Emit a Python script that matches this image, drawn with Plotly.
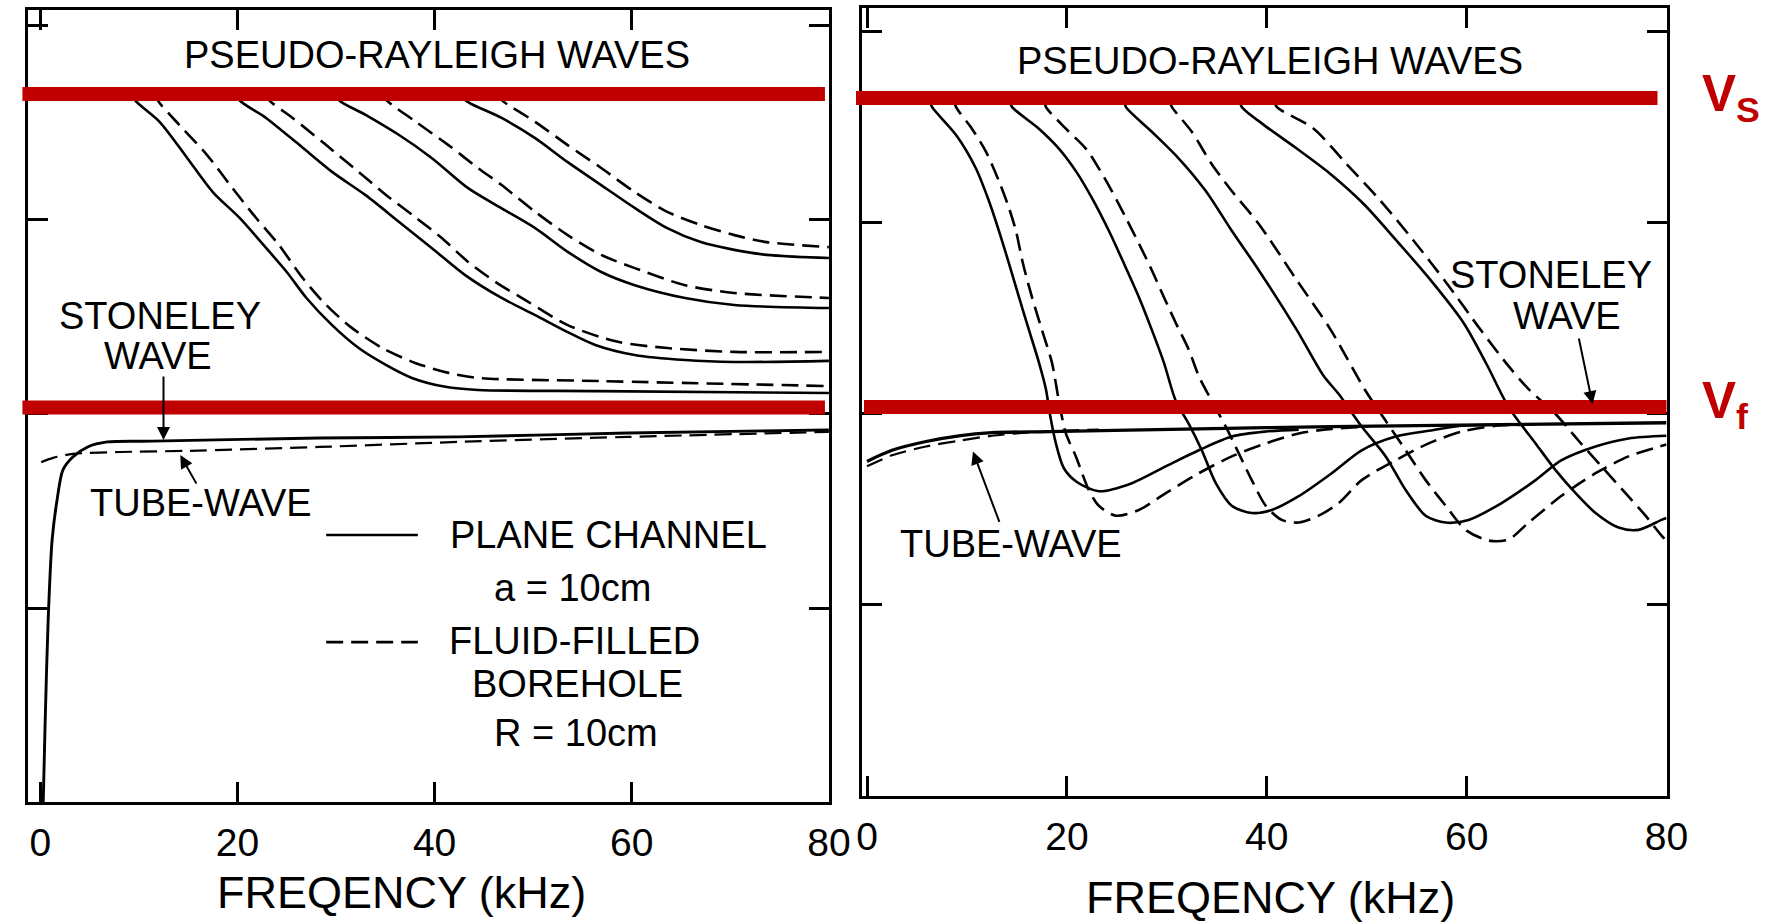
import plotly.graph_objects as go

# ---------------- data (frequency kHz, phase velocity km/s) ----------------
VS = 2.325   # shear velocity line
VF = 1.517   # fluid velocity line

# Left panel: plane channel (solid) vs fluid-filled borehole (dashed)
LP1_S_F = [9.3, 9.6, 12.1, 14.9, 17.5, 20.2, 22.9, 25.0, 27.0, 29.6, 32.3, 35.1, 37.7, 41.1, 44.4, 56.6, 80.0]
LP1_S_V = [2.330, 2.309, 2.253, 2.160, 2.072, 2.006, 1.928, 1.866, 1.799, 1.729, 1.670, 1.626, 1.593, 1.570, 1.562, 1.559, 1.554]
LP1_D_F = [11.6, 11.9, 14.1, 16.9, 19.5, 21.9, 24.2, 26.6, 29.0, 31.6, 34.7, 38.1, 41.4, 44.4, 56.6, 80.0]
LP1_D_V = [2.330, 2.309, 2.245, 2.168, 2.082, 2.005, 1.936, 1.851, 1.781, 1.722, 1.670, 1.631, 1.606, 1.593, 1.585, 1.572]

LP2_S_F = [19.9, 20.2, 22.9, 26.3, 29.6, 33.0, 36.4, 39.7, 43.1, 46.8, 50.2, 53.5, 56.3, 60.3, 65.4, 70.4, 80.0]
LP2_S_V = [2.330, 2.309, 2.263, 2.193, 2.124, 2.064, 1.995, 1.928, 1.858, 1.799, 1.755, 1.711, 1.678, 1.652, 1.639, 1.634, 1.637]
LP2_D_F = [22.7, 23.2, 25.6, 29.0, 32.3, 35.1, 38.1, 40.7, 43.4, 46.2, 49.5, 53.5, 58.6, 63.6, 70.4, 80.0]
LP2_D_V = [2.330, 2.309, 2.263, 2.193, 2.124, 2.064, 2.006, 1.954, 1.892, 1.840, 1.789, 1.729, 1.686, 1.670, 1.660, 1.660]

LP3_S_F = [30.0, 30.3, 33.0, 36.4, 39.7, 43.4, 46.8, 50.2, 53.5, 56.9, 60.3, 65.4, 70.4, 80.0]
LP3_S_V = [2.330, 2.309, 2.271, 2.219, 2.160, 2.082, 2.030, 1.979, 1.918, 1.866, 1.832, 1.799, 1.781, 1.773]
LP3_D_F = [34.5, 35.1, 38.1, 41.4, 44.4, 46.8, 50.2, 53.5, 56.9, 60.3, 65.4, 70.4, 80.0]
LP3_D_V = [2.330, 2.309, 2.253, 2.193, 2.134, 2.090, 2.021, 1.961, 1.910, 1.876, 1.832, 1.812, 1.799]

LP4_S_F = [42.2, 43.4, 46.8, 50.2, 53.5, 56.9, 60.3, 63.6, 67.0, 70.4, 73.7, 80.0]
LP4_S_V = [2.330, 2.304, 2.263, 2.211, 2.149, 2.090, 2.031, 1.979, 1.943, 1.923, 1.910, 1.902]
LP4_D_F = [46.2, 46.8, 50.2, 53.5, 56.9, 60.3, 63.6, 67.0, 70.4, 73.7, 80.0]
LP4_D_V = [2.330, 2.309, 2.253, 2.193, 2.134, 2.072, 2.021, 1.987, 1.961, 1.943, 1.930]

L_ST_F = [0.3, 0.5, 0.8, 1.2, 1.7, 2.3, 3.3, 4.8, 6.8, 11.4, 28.3, 42.4, 59.6, 80.0]
L_ST_V = [0.500, 0.711, 0.969, 1.175, 1.278, 1.356, 1.389, 1.415, 1.428, 1.430, 1.438, 1.441, 1.451, 1.459]
L_TW_F = [0.1, 1.3, 3.3, 8.1, 14.9, 28.3, 42.4, 59.6, 80.0]
L_TW_V = [1.376, 1.387, 1.397, 1.402, 1.405, 1.415, 1.428, 1.441, 1.454]

# Right panel
RP1_S_F = [6.2, 6.5, 8.9, 10.9, 12.2, 13.2, 14.2, 15.2, 16.2, 17.2, 17.9, 18.3, 18.9, 19.7, 21.0, 23.2, 26.5, 29.9, 33.2, 36.5, 39.9, 43.2]
RP1_S_V = [2.322, 2.302, 2.229, 2.141, 2.056, 1.978, 1.893, 1.805, 1.719, 1.634, 1.564, 1.499, 1.422, 1.357, 1.321, 1.297, 1.318, 1.362, 1.404, 1.440, 1.453, 1.458]
RP1_D_F = [8.7, 8.9, 10.5, 11.9, 13.2, 14.2, 14.9, 15.6, 16.5, 17.5, 18.5, 19.2, 19.9, 20.9, 22.2, 23.2, 24.9, 27.2, 29.9, 33.2, 36.5, 39.9, 43.2, 46.5, 50.2]
RP1_D_V = [2.322, 2.302, 2.245, 2.185, 2.108, 2.038, 1.978, 1.893, 1.805, 1.719, 1.634, 1.533, 1.448, 1.388, 1.300, 1.259, 1.233, 1.248, 1.292, 1.344, 1.388, 1.422, 1.448, 1.460, 1.466]

RP2_S_F = [14.2, 14.5, 17.2, 19.2, 20.9, 22.5, 24.2, 25.7, 27.2, 28.5, 29.7, 30.9, 32.2, 33.5, 34.9, 36.5, 38.5, 40.5, 43.2, 46.5, 49.5, 52.9, 56.2, 59.5, 63.2]
RP2_S_V = [2.322, 2.302, 2.245, 2.193, 2.134, 2.064, 1.978, 1.893, 1.805, 1.719, 1.634, 1.533, 1.473, 1.404, 1.318, 1.259, 1.240, 1.248, 1.284, 1.344, 1.404, 1.440, 1.455, 1.468, 1.471]
RP2_D_F = [17.7, 17.9, 19.9, 21.9, 23.2, 24.5, 25.9, 27.2, 28.5, 29.7, 30.9, 32.2, 33.2, 34.5, 35.9, 37.2, 38.5, 39.9, 41.5, 43.2, 45.2, 47.2, 49.5, 52.9, 56.2, 59.5, 62.9, 66.2]
RP2_D_V = [2.322, 2.302, 2.245, 2.193, 2.141, 2.082, 2.012, 1.945, 1.875, 1.805, 1.737, 1.667, 1.598, 1.533, 1.466, 1.396, 1.326, 1.259, 1.222, 1.215, 1.233, 1.266, 1.326, 1.378, 1.422, 1.453, 1.468, 1.471]

RP3_S_F = [25.7, 25.9, 28.5, 31.2, 33.9, 36.5, 39.2, 43.0, 45.7, 47.2, 49.5, 51.9, 53.9, 55.9, 57.9, 60.2, 63.5, 66.9, 69.5, 72.9, 76.2, 80.0]
RP3_S_V = [2.322, 2.302, 2.237, 2.167, 2.082, 1.978, 1.875, 1.719, 1.598, 1.551, 1.466, 1.388, 1.300, 1.233, 1.215, 1.222, 1.266, 1.326, 1.378, 1.414, 1.435, 1.442]
RP3_D_F = [30.2, 30.5, 32.5, 34.5, 36.5, 39.2, 43.0, 46.4, 49.9, 51.9, 53.9, 55.9, 57.9, 59.9, 62.2, 64.2, 66.2, 69.5, 72.9, 76.2, 80.0]
RP3_D_V = [2.322, 2.302, 2.237, 2.152, 2.082, 1.996, 1.849, 1.719, 1.559, 1.481, 1.404, 1.326, 1.259, 1.196, 1.168, 1.171, 1.215, 1.285, 1.344, 1.388, 1.419]

RP4_S_F = [37.2, 37.5, 39.7, 43.0, 46.4, 49.7, 53.0, 56.4, 59.7, 62.0, 64.2, 66.9, 68.9, 70.9, 72.9, 75.2, 77.2, 79.5, 80.0]
RP4_S_V = [2.322, 2.302, 2.255, 2.193, 2.126, 2.048, 1.952, 1.849, 1.737, 1.629, 1.517, 1.422, 1.352, 1.292, 1.240, 1.202, 1.196, 1.222, 1.227]
RP4_D_F = [40.7, 41.0, 44.7, 48.0, 51.4, 54.7, 58.0, 61.4, 64.2, 66.2, 68.9, 71.2, 73.5, 75.9, 77.9, 79.5, 80.0]
RP4_D_V = [2.322, 2.302, 2.245, 2.152, 2.056, 1.952, 1.841, 1.719, 1.624, 1.564, 1.499, 1.429, 1.362, 1.292, 1.233, 1.181, 1.168]

R_ST_F = [0.0, 2.5, 5.9, 9.2, 12.5, 18.2, 33.2, 46.5, 63.2, 80.0]
R_ST_V = [1.375, 1.404, 1.427, 1.442, 1.450, 1.453, 1.460, 1.466, 1.471, 1.476]
R_TW_F = [0.0, 2.5, 5.9, 9.2, 12.5, 15.9, 19.2, 23.2]
R_TW_V = [1.362, 1.391, 1.414, 1.429, 1.442, 1.450, 1.455, 1.458]

X_TICKS = [0, 20, 40, 60, 80]
Y_TICKS = [1.0, 1.5, 2.0, 2.5]

# ---------------- figure ----------------
W, H = 1777, 922
FONT = "Liberation Sans, Arial, sans-serif"
RED = "#C00000"
DASH = "17px,8px"

# the photographed page comes out slightly narrower than the layout: place
# horizontal layout positions (in px) through this correction
SX, OX = 0.9824, 10.6
def px(x):
    return (x - OX) / SX / W

fig = go.Figure()

def curve(xs, ys, axis, dashed, width=2.6):
    fig.add_trace(go.Scatter(
        x=xs, y=ys, mode="lines", xaxis="x" if axis == 1 else "x2",
        yaxis="y" if axis == 1 else "y2",
        line=dict(color="black", width=width, dash=DASH if dashed else "solid",
                  shape="spline", smoothing=0.8),
        showlegend=False, hoverinfo="skip"))

left_solid = [(LP1_S_F, LP1_S_V), (LP2_S_F, LP2_S_V), (LP3_S_F, LP3_S_V), (LP4_S_F, LP4_S_V)]
left_dash = [(LP1_D_F, LP1_D_V), (LP2_D_F, LP2_D_V), (LP3_D_F, LP3_D_V), (LP4_D_F, LP4_D_V)]
right_solid = [(RP1_S_F, RP1_S_V), (RP2_S_F, RP2_S_V), (RP3_S_F, RP3_S_V), (RP4_S_F, RP4_S_V)]
right_dash = [(RP1_D_F, RP1_D_V), (RP2_D_F, RP2_D_V), (RP3_D_F, RP3_D_V), (RP4_D_F, RP4_D_V)]

for f, v in left_solid:
    curve(f, v, 1, False)
for f, v in left_dash:
    curve(f, v, 1, True)
curve(L_ST_F, L_ST_V, 1, False, 2.9)
curve(L_TW_F, L_TW_V, 1, True, 2.2)

for f, v in right_solid:
    curve(f, v, 2, False)
for f, v in right_dash:
    curve(f, v, 2, True)
curve(R_ST_F, R_ST_V, 2, False, 3.3)
curve(R_TW_F, R_TW_V, 2, True, 2.2)

axis_common = dict(showline=True, linewidth=3, linecolor="black", mirror="ticks",
                   ticks="inside", tickwidth=2.5, tickcolor="black", ticklen=20,
                   showgrid=False, zeroline=False)

fig.update_layout(
    width=W, height=H, autosize=False, margin=dict(l=0, r=0, t=0, b=0, pad=0),
    paper_bgcolor="white", plot_bgcolor="white",
    font=dict(family=FONT, color="black"),
    xaxis=dict(domain=[px(33), px(832)], range=[-1.2, 80], tickvals=X_TICKS,
               tickfont=dict(size=39, family=FONT), ticklabelstandoff=4, anchor="y", **axis_common),
    yaxis=dict(domain=[1 - 802 / H, 1 - 10 / H], range=[0.5, 2.5412], tickvals=Y_TICKS,
               showticklabels=False, anchor="x", **axis_common),
    xaxis2=dict(domain=[px(865), px(1668)], range=[-0.5, 80], tickvals=X_TICKS,
                tickfont=dict(size=39, family=FONT), ticklabelstandoff=4, anchor="y2", **axis_common),
    yaxis2=dict(domain=[1 - 796 / H, 1 - 8 / H], range=[0.5, 2.5606], tickvals=Y_TICKS,
                showticklabels=False, anchor="x2", **axis_common),
)

# Red reference lines (Vs and Vf) drawn at the velocity values
red_lines = [("y", VS, 27, 828), ("y", VF, 27, 828),
             ("y2", VS, 859, 1659), ("y2", VF, 867, 1668)]
for yref, val, x0, x1 in red_lines:
    fig.add_shape(type="line", xref="paper", yref=yref, x0=px(x0), x1=px(x1), y0=val, y1=val,
                  line=dict(color=RED, width=14), layer="above")

# legend sample lines (left panel)
fig.add_shape(type="line", xref="x", yref="y", x0=29.0, x1=38.3, y0=1.188, y1=1.188,
              line=dict(color="black", width=2.6))
fig.add_shape(type="line", xref="x", yref="y", x0=29.0, x1=38.3, y0=0.912, y1=0.912,
              line=dict(color="black", width=2.6, dash="17px,8px"))

def txt(text, x, y, axis=1, size=38, **kw):
    fig.add_annotation(text=text, x=x, y=y, xref="x" if axis == 1 else "x2",
                       yref="y" if axis == 1 else "y2", showarrow=False,
                       font=dict(size=size, family=FONT, color="black"),
                       xanchor="center", yanchor="middle", **kw)

txt("PSEUDO-RAYLEIGH WAVES", 40.2, 2.425, 1, 38)
txt("PSEUDO-RAYLEIGH WAVES", 40.3, 2.423, 2, 38)
txt("STONELEY", 12.1, 1.753, 1, 38)
txt("WAVE", 11.9, 1.649, 1, 38)
txt("TUBE-WAVE", 16.3, 1.271, 1, 38)
txt("PLANE CHANNEL", 57.6, 1.188, 1, 38)
txt("a = 10cm", 54.0, 1.052, 1, 38)
txt("FLUID-FILLED", 54.2, 0.915, 1, 38)
txt("BOREHOLE", 54.5, 0.804, 1, 38)
txt("R = 10cm", 54.3, 0.678, 1, 38)
txt("STONELEY", 68.4, 1.862, 2, 38)
txt("WAVE", 70.0, 1.756, 2, 38)
txt("TUBE-WAVE", 14.4, 1.160, 2, 38)

def arrow(x, y, ax, ay, axis=1):
    fig.add_annotation(text="", x=x, y=y, xref="x" if axis == 1 else "x2",
                       yref="y" if axis == 1 else "y2", showarrow=True,
                       ax=ax, ay=ay, arrowhead=2, arrowsize=1.3, arrowwidth=2,
                       arrowcolor="black", standoff=0)

arrow(12.5, 1.433, 0, -65, 1)
arrow(14.2, 1.394, 17, 30, 1)
arrow(10.6, 1.401, 27, 72, 2)
arrow(72.6, 1.525, -14, -67, 2)

# x-axis titles
fig.add_annotation(text="FREQENCY (kHz)", xref="paper", yref="paper",
                   x=px(405), y=1 - 892 / H, showarrow=False,
                   font=dict(size=45, family=FONT, color="black"), xanchor="center", yanchor="middle")
fig.add_annotation(text="FREQENCY (kHz)", xref="paper", yref="paper",
                   x=px(1273), y=1 - 897 / H, showarrow=False,
                   font=dict(size=45, family=FONT, color="black"), xanchor="center", yanchor="middle")

# Vs / Vf labels
def red_label(text, x, y, size):
    fig.add_annotation(text="<b>%s</b>" % text, xref="paper", yref="paper",
                       x=px(x), y=1 - y / H, showarrow=False, xanchor="left", yanchor="middle",
                       font=dict(size=size, family=FONT, color=RED))

red_label("V<sub>S</sub>", 1701, 97, 51)
red_label("V<sub>f</sub>", 1701, 404, 51)

fig.write_html(
    "out.html",
    config={"displayModeBar": False, "responsive": False},
    post_script=("document.documentElement.style.margin='0';document.documentElement.style.padding='0';"
                 "document.documentElement.style.overflow='hidden';"
                 "document.body.style.margin='0';document.body.style.padding='0';"
                 "document.body.style.overflow='hidden';"
                 "var gd=document.getElementById('{plot_id}');"
                 "gd.style.position='fixed';gd.style.left='0px';gd.style.top='0px';"
                 "gd.style.width='1777px';gd.style.height='922px';"
                 "Plotly.relayout(gd,{width:1777,height:922,autosize:false});"),
)
